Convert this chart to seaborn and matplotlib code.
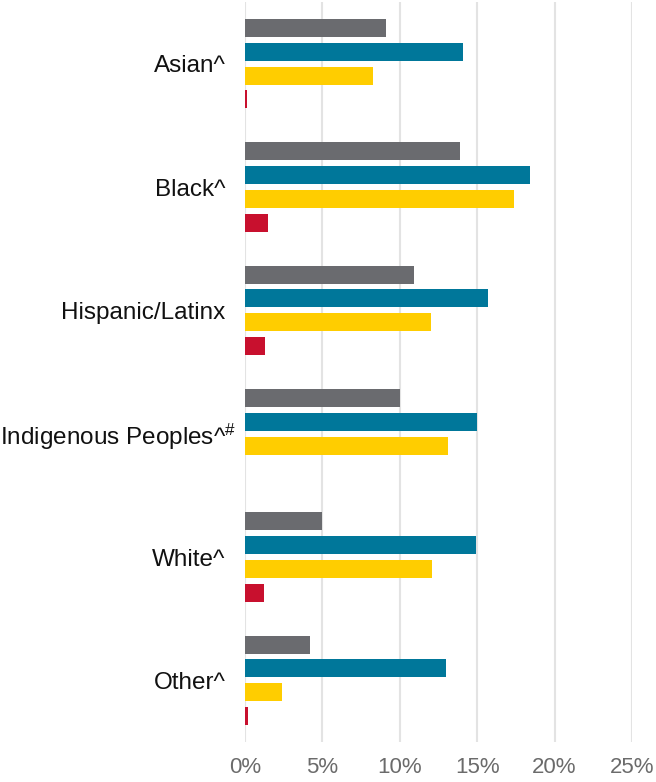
import matplotlib
matplotlib.use("Agg")
import matplotlib.pyplot as plt
import matplotlib.transforms as mtransforms
import seaborn as sns
import pandas as pd
import numpy as np

categories = ["Asian^", "Black^", "Hispanic/Latinx", r"Indigenous Peoples^$^{\#}$", "White^", "Other^"]
series_names = ["Series A", "Series B", "Series C", "Series D"]
series_a = [9.1, 13.9, 10.9, 10.0, 5.0, 4.2]
series_b = [14.1, 18.4, 15.7, 15.0, 14.9, 13.0]
series_c = [8.3, 17.4, 12.0, 13.1, 12.1, 2.4]
series_d = [0.15, 1.5, 1.27, np.nan, 1.2, 0.2]
colors = ["#6a6b6f", "#00779a", "#ffcd00", "#c8102e"]
tick_vals = [0, 5, 10, 15, 20, 25]
tick_labels = ["0%", "5%", "10%", "15%", "20%", "25%"]

rows = []
for name, vals in zip(series_names, [series_a, series_b, series_c, series_d]):
    for cat, v in zip(categories, vals):
        rows.append({"category": cat, "series": name, "value": v})
df = pd.DataFrame(rows)

sns.set_theme(style="white")
plt.rcParams["font.family"] = ["Liberation Sans", "DejaVu Sans"]
plt.rcParams["mathtext.fontset"] = "custom"
plt.rcParams["mathtext.rm"] = "Liberation Sans"
plt.rcParams["mathtext.it"] = "Liberation Sans"

fig = plt.figure(figsize=(6.56, 7.82), dpi=100)
ax = fig.add_axes([245 / 656, 1 - 742 / 782, (632 - 245) / 656, 740 / 782])

sns.barplot(data=df, y="category", x="value", hue="series", order=categories,
            hue_order=series_names, palette=colors, orient="h", width=0.77,
            gap=0.24, linewidth=0, saturation=1, ax=ax, legend=False, errorbar=None)

ax.set_xlim(0, 25)
ax.set_ylim(5.5, -0.5)
ax.set_xticks(tick_vals)
ax.set_xticklabels(tick_labels)
ax.set_xlabel("")
ax.set_ylabel("")
ax.grid(axis="x", color="#e3e3e3", linewidth=1.5)
ax.set_axisbelow(True)
for s in ax.spines.values():
    s.set_visible(False)
ax.tick_params(axis="x", length=0, pad=11, labelsize=16, labelcolor="#6b6b6b")
ax.tick_params(axis="y", length=0, pad=14, labelsize=17.5, labelcolor="#111111")

# the reference lets the superscript of the long label reach past the others
lbl = ax.get_yticklabels()[3]
lbl.set_transform(lbl.get_transform() + mtransforms.ScaledTranslation(10 / 100, 0, fig.dpi_scale_trans))

fig.savefig("out.png", dpi=100)
